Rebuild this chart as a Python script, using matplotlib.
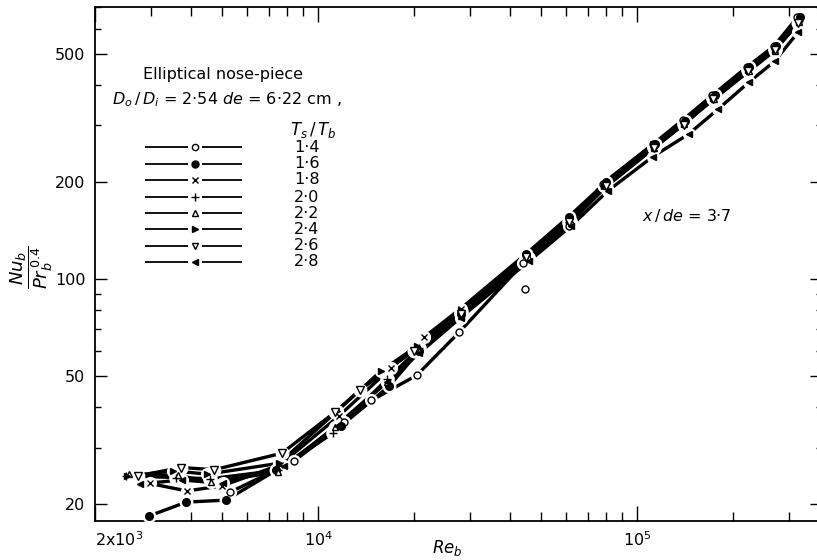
import matplotlib
matplotlib.use('Agg')
import matplotlib.pyplot as plt
from matplotlib.ticker import FixedLocator, FixedFormatter, LogLocator, NullFormatter

plt.rcParams['font.family'] = ['DejaVu Sans']
plt.rcParams['mathtext.fontset'] = 'dejavusans'

# ---------------- data ----------------
re_14 = [5300, 8400, 12100, 14700, 20400, 27700, 44000, 61000, 78000, 112000, 139000, 172000, 221000, 268000, 318000]
nu_14 = [21.8, 27.2, 36.0, 42.0, 50.3, 68.4, 112, 146, 198, 262, 312, 372, 456, 528, 650]
re_14_out = [44600]
nu_14_out = [93.0]

re_16 = [2960, 3860, 5150, 7400, 11800, 16700, 20800, 28000, 45000, 61000, 80000, 114000, 141000, 175000, 225000, 272000, 325000]
nu_16 = [18.4, 20.3, 20.6, 25.5, 35.0, 46.5, 60, 78, 120, 156, 200, 262, 310, 372, 455, 528, 650]

re_18 = [2970, 3880, 5000, 7600, 11600, 16900, 21500, 28000, 45000, 61000, 79000, 112000, 140000, 173000, 223000, 270000, 322000]
nu_18 = [23.2, 22.0, 22.8, 26.5, 37.5, 52.9, 66, 81, 120, 152, 198, 262, 306, 368, 450, 520, 642]

re_20 = [2500, 3600, 4600, 7500, 11150, 16500, 20800, 28000, 45000, 61000, 79000, 113000, 140000, 173000, 223000, 270000, 322000]
nu_20 = [24.5, 24.2, 24.0, 25.5, 33.3, 49, 61, 79, 118, 150, 196, 258, 306, 366, 448, 518, 632]

re_22 = [2550, 3650, 4620, 7500, 11300, 16400, 20800, 28000, 46000, 62000, 80000, 113000, 140000, 174000, 224000, 270000, 322000]
nu_22 = [24.8, 24.6, 23.4, 25.2, 34.8, 48, 60, 77, 116, 150, 194, 255, 303, 362, 442, 512, 628]

re_24 = [2520, 3500, 4500, 7550, 11500, 15800, 20500, 28000, 45000, 61000, 79000, 113000, 140000, 173000, 223000, 270000, 322000]
nu_24 = [24.4, 25.4, 24.8, 26.8, 39, 52, 62, 80, 119, 152, 195, 257, 304, 364, 446, 516, 630]

re_26 = [2730, 3720, 4730, 7700, 11300, 13500, 20000, 28000, 45000, 61000, 80000, 113000, 140000, 173000, 223000, 270000, 320000]
nu_26 = [24.5, 26.0, 25.6, 28.8, 38.6, 45.2, 60, 78, 117, 150, 194, 256, 302, 362, 444, 515, 625]

re_28 = [2760, 3740, 5040, 7800, 11500, 16500, 20800, 28000, 46000, 62000, 81000, 112000, 145000, 180000, 225000, 270000, 320000]
nu_28 = [23.1, 23.8, 23.2, 26.2, 35, 48, 59, 76, 114, 146, 188, 240, 282, 338, 410, 475, 585]

ts_tb_labels = ['1·4', '1·6', '1·8', '2·0', '2·2', '2·4', '2·6', '2·8']
x_tick_vals = [2000, 1e4, 1e5]
x_tick_labels = [r'2x10$^3$', r'10$^4$', r'10$^5$']
y_tick_vals = [20, 50, 100, 200, 500]
y_tick_labels = ['20', '50', '100', '200', '500']

series_re = [re_14, re_16, re_18, re_20, re_22, re_24, re_26, re_28]
series_nu = [nu_14, nu_16, nu_18, nu_20, nu_22, nu_24, nu_26, nu_28]
markers = ['o', 'o', 'x', '+', '^', '>', 'v', '<']
faces = ['white', 'black', 'none', 'none', 'white', 'black', 'white', 'black']
msizes = [5, 5.5, 5, 6, 5, 5, 5.5, 5]

# ---------------- figure ----------------
W, H = 817, 560
fig = plt.figure(figsize=(W / 100, H / 100), dpi=100)
L, R, T, B = 95, 822, 7, 521
ax = fig.add_axes([L / W, 1 - B / H, (R - L) / W, (B - T) / H])
ax.set_xscale('log')
ax.set_yscale('log')
ax.set_xlim(2000, 3.8e5)
ax.set_ylim(17.74, 700)

for re, nu, m, fc, ms in zip(series_re, series_nu, markers, faces, msizes):
    ax.plot(re, nu, '-', color='black', lw=2.4, zorder=2, solid_capstyle='butt')
    ax.plot(re, nu, 'o', ls='none', ms=ms + 3.5, color='white', zorder=3)
    ax.plot(re, nu, m, ls='none', ms=ms, mfc=fc, mec='black', mew=1.0, zorder=4)
ax.plot(re_14_out, nu_14_out, 'o', ls='none', ms=5, mfc='white', mec='black', mew=1.0, zorder=4)

ax.xaxis.set_major_locator(FixedLocator(x_tick_vals))
ax.xaxis.set_major_formatter(FixedFormatter(x_tick_labels))
ax.xaxis.set_minor_locator(LogLocator(base=10, subs=range(2, 10)))
ax.xaxis.set_minor_formatter(NullFormatter())
ax.yaxis.set_major_locator(FixedLocator(y_tick_vals))
ax.yaxis.set_major_formatter(FixedFormatter(y_tick_labels))
ax.yaxis.set_minor_locator(LogLocator(base=10, subs=range(2, 10)))
ax.yaxis.set_minor_formatter(NullFormatter())

ax.tick_params(which='both', direction='in', top=True, right=True, width=1.0, colors='black')
ax.tick_params(axis='x', which='major', length=11, labelsize=11.5, pad=7)
ax.tick_params(axis='x', which='minor', length=6.5)
ax.tick_params(axis='y', which='major', length=8.5, labelsize=11.5, pad=7)
ax.tick_params(axis='y', which='minor', length=4.5)
for lab in ax.get_xticklabels():
    if lab.get_text().startswith('2x'):
        lab.set_horizontalalignment('left')
for s in ax.spines.values():
    s.set_linewidth(1.3)

# ---------------- overlay for annotations (pixel coordinates) ----------------
ov = fig.add_axes([0, 0, 1, 1], zorder=5)
ov.set_xlim(0, W)
ov.set_ylim(H, 0)
ov.axis('off')

ov.text(143, 74, 'Elliptical nose-piece', fontsize=11.5, ha='left', va='center')
ov.text(112, 100, r'$D_o\,/\,D_i$' + ' = 2·54 ' + r'$de$' + ' = 6·22 cm ,', fontsize=11.5,
        ha='left', va='center')
ov.text(313, 130, r'$T_s\,/\,T_b$', fontsize=12, ha='center', va='center')
ov.text(642, 215, r'$x\,/\,de$' + ' = 3·7', fontsize=11.5, ha='left', va='center')

rows = [147, 164, 180, 197, 213, 229, 246, 262]
for yy, m, fc, ms, lab in zip(rows, markers, faces, msizes, ts_tb_labels):
    ov.plot([145, 188], [yy, yy], color='black', lw=1.3, solid_capstyle='butt')
    ov.plot([202, 242], [yy, yy], color='black', lw=1.3, solid_capstyle='butt')
    ov.plot([195], [yy], m, ms=ms - 0.5, mfc=fc, mec='black', mew=1.0)
    ov.text(307, yy, lab, fontsize=11.5, ha='center', va='center')

ov.text(32, 267, r'$\dfrac{Nu_b}{Pr_b^{\,0.4}}$', fontsize=13, rotation=90,
        ha='center', va='center')
ov.text(447, 548, r'$Re_b$', fontsize=12, ha='center', va='center')

fig.savefig('out.png', dpi=100, facecolor='white')
